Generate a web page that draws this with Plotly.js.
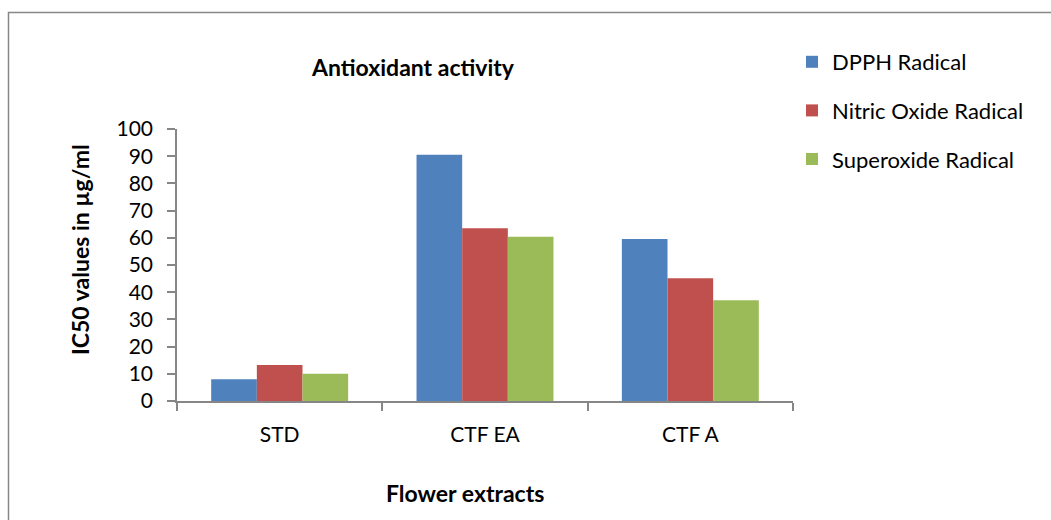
<!DOCTYPE html>
<html>
<head>
<meta charset="utf-8">
<script src="https://cdn.plot.ly/plotly-3.0.1.min.js"></script>
<style>html,body{margin:0;padding:0;background:#fff;}#chart{width:1051px;height:520px;}</style>
</head>
<body>
<div id="chart"></div>
<script>
const categories = ["STD", "CTF EA", "CTF A"];
const seriesNames = ["DPPH Radical", "Nitric Oxide Radical", "Superoxide Radical"];
const dpph = [8.0, 90.5, 59.6];
const nitricOxide = [13.2, 63.5, 45.1];
const superoxide = [10.0, 60.4, 37.0];
const yTicks = [0, 10, 20, 30, 40, 50, 60, 70, 80, 90, 100];

const colors = ["#4F81BD", "#C0504D", "#9BBB59"];
const values = [dpph, nitricOxide, superoxide];
const FONT = "Lato, 'Open Sans', sans-serif";

const traces = values.map((v, i) => ({
  type: "bar",
  name: seriesNames[i],
  x: categories,
  y: v,
  marker: {color: colors[i], line: {width: 0}},
  legendgroup: "g" + i,
  hoverinfo: "x+y+name"
}));

// plot area in px: x 177..793, y 129..401
const L = 177, R = 793, T = 129, B = 401, W = 1051, H = 520;
const pw = R - L, ph = B - T;
const px = v => (v - L) / pw;
const py = v => (B - v) / ph;

const layout = {
  width: W, height: H,
  margin: {l: L, r: W - R, t: T, b: H - B, pad: 0},
  paper_bgcolor: "#fff",
  plot_bgcolor: "#fff",
  font: {family: FONT, size: 21, color: "#000"},
  barmode: "group",
  bargap: 0.333,
  bargroupgap: 0,
  title: {
    text: "<b>Antioxidant activity</b>",
    font: {family: FONT, size: 23, color: "#000"},
    x: 413 / W, xref: "container", xanchor: "center",
    y: 1 - 68 / H, yref: "container", yanchor: "middle"
  },
  xaxis: {
    type: "category",
    showline: true, linecolor: "#868686", linewidth: 1.5,
    ticks: "outside", tickson: "boundaries", ticklen: 8, tickcolor: "#868686", tickwidth: 1.5,
    showgrid: false, zeroline: false,
    tickfont: {family: FONT, size: 21, color: "#000"},
    ticklabelstandoff: 14,
    fixedrange: true
  },
  yaxis: {
    range: [0, 100],
    tickvals: yTicks,
    ticktext: yTicks.map(String),
    showline: true, linecolor: "#868686", linewidth: 1.5,
    ticks: "outside", ticklen: 8, tickcolor: "#868686", tickwidth: 1.5,
    showgrid: false, zeroline: false,
    tickfont: {family: FONT, size: 21, color: "#000"},
    ticklabelstandoff: 10,
    fixedrange: true
  },
  showlegend: true,
  legend: {
    x: px(792), xanchor: "left",
    y: py(41), yanchor: "top",
    font: {family: FONT, size: 22, color: "#000"},
    bgcolor: "rgba(0,0,0,0)",
    traceorder: "grouped",
    tracegroupgap: 17,
    itemclick: false, itemdoubleclick: false
  },
  annotations: [
    {text: "<b>IC50 values in µg/ml</b>", xref: "paper", yref: "paper",
     x: px(80), y: py(250), xanchor: "center", yanchor: "middle",
     textangle: -90, showarrow: false, font: {family: FONT, size: 23, color: "#000"}},
    {text: "<b>Flower extracts</b>", xref: "paper", yref: "paper",
     x: px(465), y: py(493), xanchor: "center", yanchor: "middle",
     showarrow: false, font: {family: FONT, size: 23, color: "#000"}}
  ],
  shapes: [
    {type: "rect", xref: "paper", yref: "paper",
     x0: px(8.5), x1: px(1070), y0: py(540), y1: py(12.5),
     line: {color: "#878787", width: 1.5}, fillcolor: "rgba(0,0,0,0)", layer: "below"}
  ]
};

Plotly.newPlot("chart", traces, layout, {displayModeBar: false, responsive: false});
</script>
</body>
</html>
